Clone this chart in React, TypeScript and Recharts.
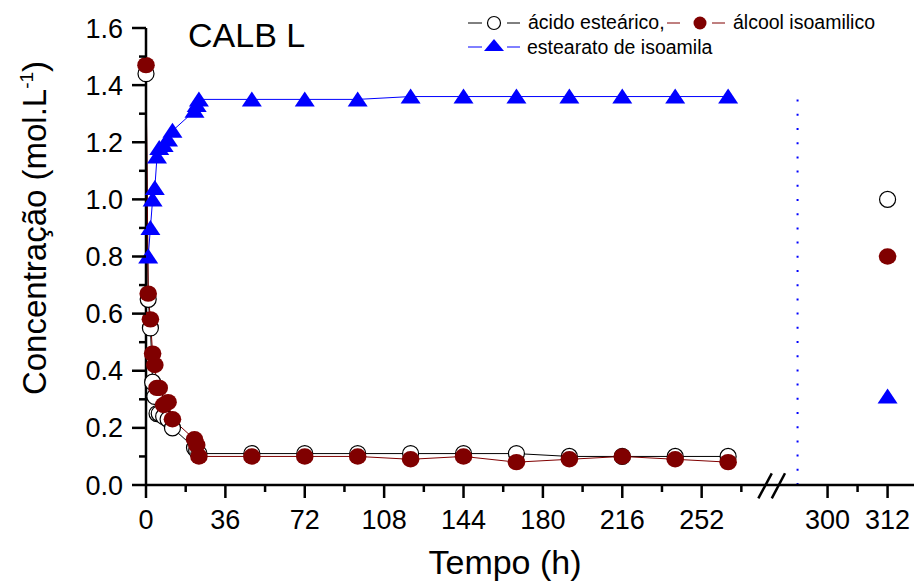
import { ComposedChart, Label, Legend, Line, ReferenceLine, Scatter, XAxis, YAxis } from "recharts"

// sampling times (h) and measured concentrations (mol/L)
const hours = [0, 1, 2, 3, 4, 5, 6, 8, 10, 12, 22, 23, 24, 48, 72, 96, 120, 144, 168, 192, 216, 240, 264]
const acidoEstearico = [1.44, 0.65, 0.55, 0.36, 0.31, 0.25, 0.25, 0.24, 0.23, 0.2, 0.13, 0.12, 0.11, 0.11, 0.11, 0.11, 0.11, 0.11, 0.11, 0.1, 0.1, 0.1, 0.1]
const alcoolIsoamilico = [1.47, 0.67, 0.58, 0.46, 0.42, 0.34, 0.34, 0.28, 0.29, 0.23, 0.16, 0.14, 0.1, 0.1, 0.1, 0.1, 0.09, 0.1, 0.08, 0.09, 0.1, 0.09, 0.08]
const estearatoIsoamila = [null, 0.8, 0.9, 1.0, 1.04, 1.15, 1.18, 1.19, 1.21, 1.24, 1.31, 1.33, 1.35, 1.35, 1.35, 1.35, 1.36, 1.36, 1.36, 1.36, 1.36, 1.36, 1.36]

// separate measurement after the axis break
const endHours = [312]
const endAcido = [1.0]
const endAlcool = [0.8]
const endEster = [0.31]

const majorHourTicks = [0, 36, 72, 108, 144, 180, 216, 252, 300, 312]
const minorHourTicks = [18, 54, 90, 126, 162, 198, 234, 270, 306]
const yTicks = [0, 0.1, 0.2, 0.3, 0.4, 0.5, 0.6, 0.7, 0.8, 0.9, 1.0, 1.1, 1.2, 1.3, 1.4, 1.5, 1.6]

const RED = "#800000"
const BLUE = "#0000ff"
const FONT = "'Liberation Sans', Arial, sans-serif"

// broken x axis: hours past the break are drawn on a stretched scale
const X_MAX = 348.3
const axisPos = (h: number) => (h <= 282 ? h : 309.1 + (h - 300) * 2.268)

const data = hours.map((h, i) => ({
    x: axisPos(h),
    acido: acidoEstearico[i],
    alcool: alcoolIsoamilico[i],
    ester: estearatoIsoamila[i],
}))
const endData = (vals: number[]) => endHours.map((h, i) => ({ x: axisPos(h), y: vals[i] }))

const allXTicks = [...majorHourTicks, ...minorHourTicks].map(axisPos)

function OpenCircle({ cx, cy }: any) {
    if (cx == null || cy == null) return null
    return <circle cx={cx} cy={cy} r={8} fill="#fff" stroke="#000" strokeWidth={1.2} />
}

function FilledCircle({ cx, cy }: any) {
    if (cx == null || cy == null) return null
    return <ellipse cx={cx} cy={cy} rx={8.8} ry={8.2} fill={RED} />
}

function Triangle({ cx, cy }: any) {
    if (cx == null || cy == null) return null
    return <path d={`M${cx},${cy - 8}L${cx + 10},${cy + 7}L${cx - 10},${cy + 7}Z`} fill={BLUE} />
}

function XTick({ x, y, payload }: any) {
    const all = [...majorHourTicks, ...minorHourTicks]
    const hour = all.reduce((best, h) => (Math.abs(axisPos(h) - payload.value) < Math.abs(axisPos(best) - payload.value) ? h : best), all[0])
    const major = majorHourTicks.includes(hour)
    return (
        <g>
            <line x1={x} x2={x} y1={y} y2={y + (major ? 13 : 7)} stroke="#000" strokeWidth={2.5} />
            {major && (
                <text x={x} y={y + 44} textAnchor="middle" fontSize={27} fontFamily={FONT} fill="#000">
                    {hour}
                </text>
            )}
        </g>
    )
}

function YTick({ x, y, payload }: any) {
    const major = Math.round(payload.value * 10) % 2 === 0
    return (
        <g>
            <line x1={x} x2={x - (major ? 14 : 7)} y1={y} y2={y} stroke="#000" strokeWidth={2.5} />
            {major && (
                <text x={x - 23} y={y + 9.5} textAnchor="end" fontSize={27} fontFamily={FONT} fill="#000">
                    {payload.value.toFixed(1)}
                </text>
            )}
        </g>
    )
}

function YTitle() {
    return (
        <text transform="translate(46, 228) rotate(-90)" textAnchor="middle" fontSize={33} fontFamily={FONT} fill="#000">
            Concentração (mol.L<tspan dy={-13} fontSize={19}>-1</tspan>
            <tspan dy={13}>)</tspan>
        </text>
    )
}

function XTitle() {
    return (
        <text x={505} y={574} textAnchor="middle" fontSize={34} fontFamily={FONT} fill="#000">
            Tempo (h)
        </text>
    )
}

function LegendContent() {
    return (
        <svg width={454} height={62} style={{ display: "block" }}>
            <line x1={8} x2={22} y1={23} y2={23} stroke="#000" strokeWidth={1} />
            <circle cx={34} cy={23} r={6.5} fill="#fff" stroke="#000" strokeWidth={1.2} />
            <line x1={47} x2={60} y1={23} y2={23} stroke="#000" strokeWidth={1} />
            <text x={68} y={29} fontSize={19.5} fontFamily={FONT} fill="#000">ácido esteárico,</text>
            <line x1={207} x2={220} y1={23} y2={23} stroke={RED} strokeWidth={1} />
            <circle cx={240} cy={23} r={6.5} fill={RED} />
            <line x1={252} x2={265} y1={23} y2={23} stroke={RED} strokeWidth={1} />
            <text x={273} y={29} fontSize={19.5} fontFamily={FONT} fill="#000">álcool isoamilico</text>
            <line x1={8} x2={22} y1={47} y2={47} stroke={BLUE} strokeWidth={1} />
            <path d="M34,39L44,51L24,51Z" fill={BLUE} />
            <line x1={47} x2={60} y1={47} y2={47} stroke={BLUE} strokeWidth={1} />
            <text x={67} y={54} fontSize={19.5} fontFamily={FONT} fill="#000">estearato de isoamila</text>
        </svg>
    )
}

export default function App() {
    return (
        <div style={{ position: "absolute", left: 0, top: 0, width: 914, height: 584, background: "#fff", fontFamily: FONT }}>
            <ComposedChart width={914} height={584} data={data} margin={{ top: 28, right: 0, bottom: 0, left: 0 }}>
                <XAxis
                    type="number"
                    dataKey="x"
                    domain={[0, X_MAX]}
                    ticks={allXTicks}
                    interval={0}
                    height={99}
                    tickSize={0}
                    tickMargin={0}
                    tickLine={false}
                    tick={<XTick />}
                    axisLine={{ stroke: "#000", strokeWidth: 2.5 }}
                >
                    <Label content={XTitle} />
                </XAxis>
                <YAxis
                    type="number"
                    domain={[0, 1.6]}
                    ticks={yTicks}
                    interval={0}
                    width={146}
                    tickSize={0}
                    tickMargin={0}
                    tickLine={false}
                    tick={<YTick />}
                    axisLine={{ stroke: "#000", strokeWidth: 2.5 }}
                >
                    <Label content={YTitle} />
                </YAxis>
                <Legend verticalAlign="middle" layout="horizontal" align="center" wrapperStyle={{ top: 0, left: 460, width: 454, height: 62 }} content={LegendContent} />
                <ReferenceLine
                    segment={[{ x: axisPos(294), y: 0 }, { x: axisPos(294), y: 1.38 }]}
                    stroke={BLUE}
                    strokeWidth={2}
                    strokeDasharray="2 12.2"
                />
                <ReferenceLine segment={[{ x: 281, y: 0 }, { x: 287, y: 0 }]} stroke="#fff" strokeWidth={5} ifOverflow="visible" />
                <ReferenceLine segment={[{ x: 277.7, y: -0.047 }, { x: 283.8, y: 0.041 }]} stroke="#000" strokeWidth={2.5} ifOverflow="visible" />
                <ReferenceLine segment={[{ x: 283.8, y: -0.047 }, { x: 289.8, y: 0.041 }]} stroke="#000" strokeWidth={2.5} ifOverflow="visible" />
                <Line dataKey="acido" stroke="#000" strokeWidth={1} isAnimationActive={false} dot={(p: any) => <OpenCircle key={`a${p.index}`} {...p} />} />
                <Line dataKey="alcool" stroke={RED} strokeWidth={1} isAnimationActive={false} dot={(p: any) => <FilledCircle key={`b${p.index}`} {...p} />} />
                <Line dataKey="ester" stroke={BLUE} strokeWidth={1} isAnimationActive={false} dot={(p: any) => <Triangle key={`c${p.index}`} {...p} />} />
                <Scatter data={endData(endAcido)} dataKey="y" isAnimationActive={false} shape={(p: any) => <OpenCircle {...p} />} />
                <Scatter data={endData(endAlcool)} dataKey="y" isAnimationActive={false} shape={(p: any) => <FilledCircle {...p} />} />
                <Scatter data={endData(endEster)} dataKey="y" isAnimationActive={false} shape={(p: any) => <Triangle {...p} />} />
            </ComposedChart>
            <svg width={914} height={584} style={{ position: "absolute", left: 0, top: 0, pointerEvents: "none" }}>
                <text x={188} y={47} fontSize={34} fontFamily={FONT} fill="#000">CALB L</text>
            </svg>
        </div>
    )
}
